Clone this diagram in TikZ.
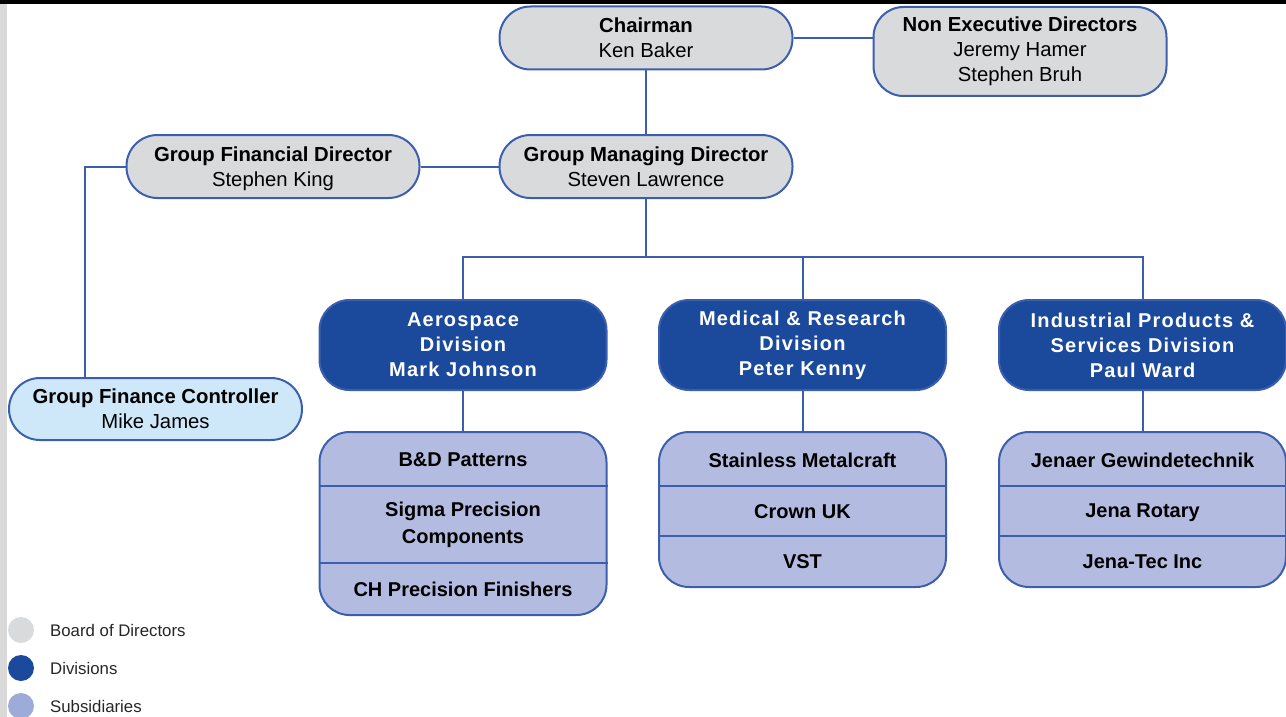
\documentclass[tikz,border=0pt]{standalone}
\usepackage{fontspec}
\setmainfont{Liberation Sans}
\newfontfamily\divfont[LetterSpace=6]{Liberation Sans}
\usetikzlibrary{positioning}
\definecolor{edgeblue}{HTML}{3B5FAE}
\definecolor{boardgray}{HTML}{D9DADC}
\definecolor{divblue}{HTML}{1B4A9C}
\definecolor{subsblue}{HTML}{B3BCE0}
\definecolor{legsubs}{HTML}{9DABD8}
\definecolor{ctrlblue}{HTML}{CFE8F9}

\begin{document}
\begin{tikzpicture}[x=1pt,y=-1pt,
        board/.style={rectangle,draw=edgeblue,line width=2pt,fill=boardgray,
            rounded corners=31pt,minimum width=293pt,minimum height=63pt,
            align=center,inner sep=0pt,font=\fontsize{20.3}{25}\selectfont},
        division/.style={rectangle,draw=edgeblue,line width=2pt,fill=divblue,
            rounded corners=30pt,minimum width=287pt,minimum height=90pt,
            align=center,inner sep=0pt,text=white,
            font=\divfont\bfseries\fontsize{20}{25}\selectfont},
        subsbox/.style={rectangle,draw=edgeblue,line width=2pt,fill=subsblue,
            rounded corners=30pt,minimum width=287pt,inner sep=0pt},
        subsname/.style={align=center,inner sep=0pt,
            font=\bfseries\fontsize{20}{27}\selectfont},
        link/.style={draw=edgeblue,line width=2pt},
        legdot/.style={circle,minimum size=26pt,inner sep=0pt},
        legtext/.style={anchor=west,inner sep=0pt,text=black!85,
            font=\fontsize{16.8}{18}\selectfont}]
        \useasboundingbox (0,0) rectangle (1286,717);
        % Frame edges
        \fill [black] (0,0) rectangle (1286,4);
        \fill [black!15] (0,4) rectangle (7,717);

        % Board
        \node [board] (chair) at (646,38) {\textbf{Chairman}\\Ken Baker};
        \node [board,minimum height=89pt,rounded corners=30pt] (ned) at (1020,51.5)
            {\textbf{Non Executive Directors}\\Jeremy Hamer\\Stephen Bruh};
        \node [board] (gmd) at (646,166.5) {\textbf{Group Managing Director}\\Steven Lawrence};
        \node [board] (gfd) at (273,166.5)
            {\rule{0pt}{19pt}\textbf{Group Financial Director}\\Stephen King};
        \node [board,fill=ctrlblue,minimum height=62pt] (gfc) at (155.5,409)
            {\textbf{Group Finance Controller}\\Mike James};

        % Divisions
        \node [division] (aero) at (463,345) {Aerospace\\Division\\Mark Johnson};
        \node [division] (med) at (802.5,345) {Medical \& Research\\Division\\Peter Kenny};
        \node [division] (indus) at (1142.5,345) {Industrial Products \&\\Services Division\\Paul Ward};

        % Subsidiaries
        \node [subsbox,minimum height=183pt] (aeroSubs) at (463,523.5) {};
        \node [subsbox,minimum height=155pt] (medSubs) at (802.5,509.5) {};
        \node [subsbox,minimum height=155pt] (indusSubs) at (1142.5,509.5) {};
        \draw [link] (aeroSubs.west |- 0,486) -- (aeroSubs.east |- 0,486);
        \draw [link] (aeroSubs.west |- 0,563) -- (aeroSubs.east |- 0,563);
        \draw [link] (medSubs.west |- 0,486) -- (medSubs.east |- 0,486);
        \draw [link] (medSubs.west |- 0,536) -- (medSubs.east |- 0,536);
        \draw [link] (indusSubs.west |- 0,486) -- (indusSubs.east |- 0,486);
        \draw [link] (indusSubs.west |- 0,536) -- (indusSubs.east |- 0,536);
        \node [subsname] (bd) at (463,460) {B\&D Patterns};
        \node [subsname] (sigma) at (463,525) {Sigma Precision\\Components};
        \node [subsname] (ch) at (463,589) {CH Precision Finishers};
        \node [subsname] (stain) at (802.5,460) {Stainless Metalcraft};
        \node [subsname] (crown) at (802.5,511.5) {Crown UK};
        \node [subsname] (vst) at (802.5,562) {VST};
        \node [subsname] (jenaer) at (1142.5,460) {Jenaer Gewindetechnik};
        \node [subsname] (rotary) at (1142.5,513) {Jena Rotary};
        \node [subsname] (jenatec) at (1142.5,562) {Jena-Tec Inc};

        % Links
        \coordinate (bus) at (646,257);
        \draw [link] (chair.east) -- (chair.east -| ned.west);
        \draw [link] (chair.south) -- (gmd.north);
        \draw [link] (gfd.east) -- (gmd.west);
        \draw [link] (gfd.west) -| ([xshift=-71pt]gfc.north);
        \draw [link] (gmd.south) -- (bus);
        \draw [link] (aero.north) |- (bus) -| (indus.north);
        \draw [link] (med.north) -- (med.north |- bus);
        \draw [link] (aero.south) -- (aeroSubs.north);
        \draw [link] (med.south) -- (medSubs.north);
        \draw [link] (indus.south) -- (indusSubs.north);

        % Legend
        \node [legdot,fill=boardgray] (dotBoard) at (21,630) {};
        \node [legdot,fill=divblue] (dotDiv) at (21,668) {};
        \node [legdot,fill=legsubs] (dotSubs) at (21,706) {};
        \node [legtext] (keyBoard) at (50,630) {Board of Directors};
        \node [legtext] (keyDiv) at (50,668) {Divisions};
        \node [legtext] (keySubs) at (50,706) {Subsidiaries};
\end{tikzpicture}
\end{document}
